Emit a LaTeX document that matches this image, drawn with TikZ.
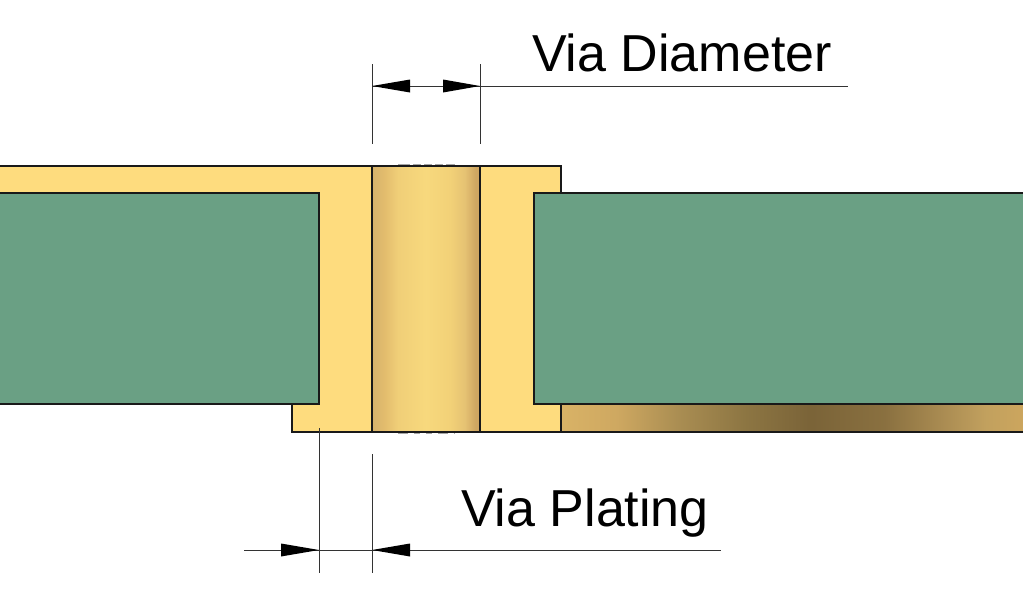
\documentclass[tikz,border=0pt]{standalone}
\usepackage{fontspec}
\setmainfont{Liberation Sans}
\definecolor{pcbgreen}{HTML}{6AA084}
\definecolor{plating}{HTML}{FEDC7E}
\pgfdeclarehorizontalshading{holeshade}{100bp}{
 rgb(0bp)=(0.84,0.70,0.42);
 rgb(25bp)=(0.84,0.70,0.42);
 rgb(31bp)=(0.89,0.74,0.43);
 rgb(37bp)=(0.94,0.81,0.47);
 rgb(50bp)=(0.97,0.85,0.49);
 rgb(61bp)=(0.95,0.82,0.47);
 rgb(68bp)=(0.90,0.76,0.45);
 rgb(73bp)=(0.81,0.65,0.38);
 rgb(75bp)=(0.81,0.65,0.38);
 rgb(100bp)=(0.81,0.65,0.38)}
\pgfdeclarehorizontalshading{bandshade}{100bp}{
 rgb(0bp)=(0.85,0.70,0.40);
 rgb(25bp)=(0.85,0.70,0.40);
 rgb(31bp)=(0.81,0.66,0.38);
 rgb(38bp)=(0.66,0.55,0.32);
 rgb(45bp)=(0.55,0.46,0.26);
 rgb(52bp)=(0.48,0.39,0.22);
 rgb(60bp)=(0.54,0.44,0.25);
 rgb(67bp)=(0.68,0.56,0.33);
 rgb(71bp)=(0.76,0.63,0.37);
 rgb(75bp)=(0.80,0.65,0.37);
 rgb(100bp)=(0.80,0.65,0.37)}
\tikzset{
 outline/.style={draw=black!90,line width=1.1pt},
 dimline/.style={draw=black!80,line width=1pt},
 tipfill/.style={fill=black,draw=none},
 label/.style={font=\fontsize{52}{52}\selectfont,text=black,inner sep=0pt,anchor=base west}
}
\begin{document}
\begin{tikzpicture}[x=1pt,y=-1pt]
\useasboundingbox (0,0) rectangle (1023,600);
% gold band and plating
\shade[shading=bandshade] (561,404) rectangle (1023,432);
\fill[plating] (0,166) -- (561,166) -- (561,193) -- (534,193) -- (534,404) -- (561,404) -- (561,432) -- (292,432) -- (292,404) -- (319,404) -- (319,193) -- (0,193) -- cycle;
\fill[pcbgreen] (0,193) rectangle (319,404);
\fill[pcbgreen] (534,193) rectangle (1023,404);
\shade[shading=holeshade] (372,166) rectangle (480,432);
% faint marks
\draw[black!35,line width=1.2pt,dash pattern=on 12pt off 3pt on 8pt off 3pt on 8pt off 3pt on 8pt off 3pt] (398,165) -- (455,165);
\draw[black!35,line width=1.2pt,dash pattern=on 10pt off 6pt on 6pt off 6pt on 6pt off 6pt] (398,433) -- (455,433);
% outlines
\draw[outline] (0,166) -- (561,166) -- (561,193) -- (534,193) -- (534,404) -- (561,404) -- (561,432) -- (292,432) -- (292,404) -- (319,404) -- (319,193) -- (0,193);
\draw[outline] (561,193) -- (1023,193);
\draw[outline] (534,404) -- (1023,404);
\draw[outline] (561,432) -- (1023,432);
\draw[outline] (0,404) -- (319,404);
\draw[outline] (372,166) -- (372,432);
\draw[outline] (480,166) -- (480,432);
% dimension anchors
\coordinate (dtl) at (372,64); \coordinate (dbl) at (372,144);
\coordinate (dtr) at (480,64); \coordinate (dbr) at (480,144);
\coordinate (dl) at (372,86); \coordinate (dr) at (480,86); \coordinate (dend) at (848,86);
\coordinate (ptl) at (319,428); \coordinate (pbl) at (319,573);
\coordinate (ptr) at (372,454); \coordinate (pbr) at (372,573);
\coordinate (ps) at (244,550); \coordinate (pa) at (319,550); \coordinate (pb) at (372,550); \coordinate (pe) at (721,550);
\draw[dimline] (dtl) -- (dbl);
\draw[dimline] (dtr) -- (dbr);
\draw[dimline] (dl) -- (dend);
\draw[dimline] (ptl) -- (pbl);
\draw[dimline] (ptr) -- (pbr);
\draw[dimline] (ps) -- (pe);
% arrowheads
\fill[tipfill] (dl) -- ++(38,-6.5) -- ++(0,13) -- cycle;
\fill[tipfill] (dr) -- ++(-37,-6.5) -- ++(0,13) -- cycle;
\fill[tipfill] (pa) -- ++(-38,-6.5) -- ++(0,13) -- cycle;
\fill[tipfill] (pb) -- ++(38,-6.5) -- ++(0,13) -- cycle;
% labels
\node[label] (viadia) at (532,71) {Via Diameter};
\node[label] (viapl) at (461,526) {Via Plating};
\end{tikzpicture}
\end{document}
